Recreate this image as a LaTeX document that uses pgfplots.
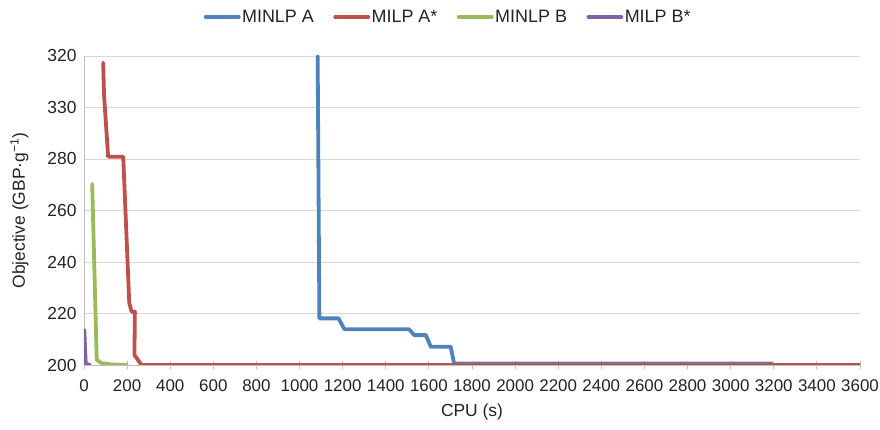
\documentclass[border=0pt]{standalone}
\usepackage{fontspec}
\setmainfont{Liberation Sans}
\usepackage{pgfplots}
\pgfplotsset{compat=1.18}

\definecolor{cA}{RGB}{79,129,189}
\definecolor{cB}{RGB}{192,80,77}
\definecolor{cC}{RGB}{155,187,89}
\definecolor{cD}{RGB}{128,100,162}
\definecolor{gridc}{RGB}{217,217,217}
\definecolor{axisc}{RGB}{190,190,190}
\definecolor{txt}{RGB}{35,35,35}

\begin{document}
\begin{tikzpicture}
\path[use as bounding box] (-84bp,-65bp) rectangle (796bp,365bp);
\begin{axis}[
  at={(0,0)}, anchor=south west,
  scale only axis,
  width=776bp, height=309bp,
  xmin=0, xmax=3600,
  ymin=200, ymax=320,
  xtick={0,200,...,3600},
  ytick={200,220,240,260,280,300,320},
  yticklabels={200,220,240,260,280,330,320},
  /pgf/number format/assume math mode=true,
  /pgf/number format/1000 sep={},
  axis lines*=left,
  axis line style={axisc, line width=0.8bp},
  ymajorgrids=true,
  grid style={gridc, line width=0.8bp},
  tick align=center,
  major tick length=8bp,
  xtick style={axisc, line width=0.8bp},
  ytick style={draw=none},
  x tick label style={font=\fontsize{17}{20}\selectfont, text=txt, yshift=-7bp},
  y tick label style={font=\fontsize{17.5}{19}\selectfont, text=txt, xshift=0bp},
  xlabel={CPU (s)},
  ylabel={Objective (GBP·g\textsuperscript{−1})},
  label style={font=\fontsize{17.5}{20}\selectfont, text=txt},
  xlabel style={yshift=-6bp},
  ylabel style={yshift=12bp},
  legend columns=4,
  legend style={
    at={(axis description cs:0.469,1)}, anchor=center, yshift=39bp,
    draw=none, fill=none, inner sep=0pt,
    font=\fontsize{18}{20}\selectfont, text=txt,
    /tikz/every even column/.append style={column sep=18bp},
    nodes={inner sep=1.5bp},
  },
  legend image code/.code={\draw[#1, line width=3.8bp] (0bp,0bp) -- (33bp,0bp);},
  every axis plot/.append style={line width=3.8bp, line join=round, line cap=round},
]
\addplot[cA] coordinates {
  (1084,320) (1092,218.1) (1181,218.1) (1208,213.9) (1508,213.9)
  (1532,211.6) (1586,211.6) (1609,207.1) (1701,207.1) (1717,200.6)
  (3190,200.6)
};
\addlegendentry{MINLP A}
\addplot[cB] coordinates {
  (89,317.4) (93,304.8) (112,280.9) (182,280.9) (210,224)
  (221,220.7) (236,220.7) (234,203.9) (267,200) (3600,200)
};
\addlegendentry{MILP A*}
\addplot[cC] coordinates {
  (38,270.3) (59,202) (82,200.7) (128,200.2) (198,200)
};
\addlegendentry{MINLP B}
\addplot[cD] coordinates {
  (1.5,213.6) (8,200.5) (28,200)
};
\addlegendentry{MILP B*}
\end{axis}
\end{tikzpicture}
\end{document}
